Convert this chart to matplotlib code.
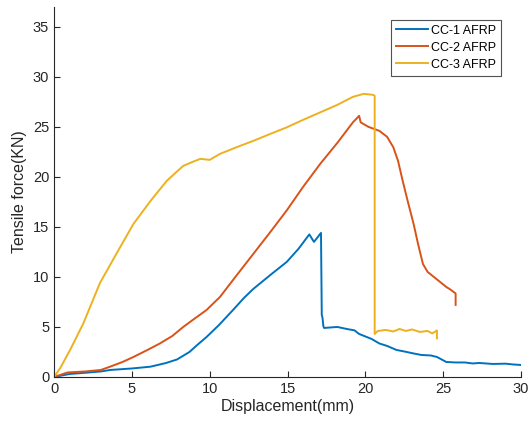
import matplotlib.pyplot as plt

# CC-1 AFRP
cc1_x = [0, 1.0, 2.0, 3.0, 3.6, 5.0, 6.2, 7.2, 7.9, 8.7, 9.2, 9.8, 10.6, 11.5, 12.2, 12.8, 13.9,
         14.95, 15.7, 16.4, 16.7, 17.15, 17.2, 17.25, 17.3, 17.35, 18.2, 18.8, 19.3,
         19.6, 20.4, 20.9, 21.4, 22.0, 22.5, 23.1, 23.6, 24.2, 24.6, 25.2, 25.8,
         26.4, 26.9, 27.3, 28.2, 29.0, 29.5, 30.0]
cc1_y = [0, 0.3, 0.42, 0.55, 0.7, 0.85, 1.03, 1.4, 1.75, 2.5, 3.2, 4.0, 5.2, 6.7, 7.9, 8.8, 10.2,
         11.5, 12.8, 14.25, 13.5, 14.4, 6.2, 5.9, 5.1, 4.9, 5.0, 4.8, 4.66,
         4.3, 3.8, 3.35, 3.1, 2.7, 2.55, 2.35, 2.2, 2.15, 2.0, 1.5, 1.45,
         1.45, 1.35, 1.4, 1.3, 1.33, 1.25, 1.2]

# CC-2 AFRP
cc2_x = [0, 0.87, 2.0, 3.0, 3.6, 4.4, 5.1, 6.0, 6.8, 7.6, 8.3, 9.0, 9.8, 10.66, 11.7, 12.8,
         13.9, 14.95, 16.0, 17.1, 18.2, 19.2, 19.6, 19.7, 20.2, 20.9, 21.4, 21.8, 22.1,
         22.4, 22.75, 23.1, 23.4, 23.7, 24.0, 24.4, 24.8, 25.2, 25.5, 25.8, 25.8]
cc2_y = [0, 0.45, 0.55, 0.7, 1.03, 1.5, 2.0, 2.7, 3.35, 4.1, 5.0, 5.8, 6.7, 8.0, 10.1, 12.3,
         14.5, 16.65, 19.0, 21.3, 23.4, 25.45, 26.1, 25.45, 25.0, 24.6, 24.0, 22.95, 21.6,
         19.6, 17.4, 15.3, 13.2, 11.3, 10.5, 10.0, 9.5, 9.0, 8.7, 8.35, 7.2]

# CC-3 AFRP
cc3_x = [0, 0.4, 1.03, 1.88, 2.95, 4.0, 5.1, 6.2, 7.24, 7.8, 8.3, 8.9, 9.4, 10.0, 10.66,
         11.7, 12.8, 13.9, 14.95, 16.0, 17.1, 18.2, 19.2, 19.9, 20.5, 20.6, 20.6, 20.8,
         21.3, 21.8, 22.2, 22.6, 23.0, 23.5, 24.0, 24.3, 24.6, 24.6]
cc3_y = [0, 0.9, 2.7, 5.35, 9.4, 12.3, 15.3, 17.6, 19.6, 20.4, 21.1, 21.5, 21.8, 21.7, 22.3,
         22.95, 23.6, 24.3, 24.95, 25.7, 26.45, 27.2, 28.0, 28.3, 28.2, 28.1, 4.3, 4.6,
         4.7, 4.55, 4.8, 4.6, 4.75, 4.5, 4.6, 4.35, 4.65, 3.85]

labels = ["CC-1 AFRP", "CC-2 AFRP", "CC-3 AFRP"]
colors = ["#0072BD", "#D95319", "#EDB120"]

plt.rcParams['font.family'] = ['Liberation Sans', 'DejaVu Sans']
fig = plt.figure(figsize=(5.3, 4.25), dpi=100)
ax = fig.add_axes([0.102, 0.113, 0.881, 0.871])

for xs, ys, lab, c in zip([cc1_x, cc2_x, cc3_x], [cc1_y, cc2_y, cc3_y], labels, colors):
    ax.plot(xs, ys, color=c, lw=1.4, label=lab)

ax.set_xlim(0, 30)
ax.set_ylim(0, 37)
ax.set_xticks(range(0, 31, 5))
ax.set_yticks(range(0, 36, 5))
ax.spines['top'].set_visible(False)
ax.spines['right'].set_visible(False)
for s in ['left', 'bottom']:
    ax.spines[s].set_color('#262626')
    ax.spines[s].set_linewidth(0.8)
ax.tick_params(direction='in', length=4, labelsize=10.5, colors='#262626')
ax.set_xlabel("Displacement(mm)", fontsize=11.5, color='#262626', labelpad=2)
ax.set_ylabel("Tensile force(KN)", fontsize=11.5, color='#262626', labelpad=4)

leg = ax.legend(loc='upper right', bbox_to_anchor=(0.957, 0.965), fontsize=9,
                frameon=True, fancybox=False, edgecolor='#262626',
                handlelength=2.5, borderpad=0.4, labelspacing=0.4, handletextpad=0.25,
                borderaxespad=0.0)
leg.get_frame().set_linewidth(0.8)

fig.savefig("out.png", dpi=100)
